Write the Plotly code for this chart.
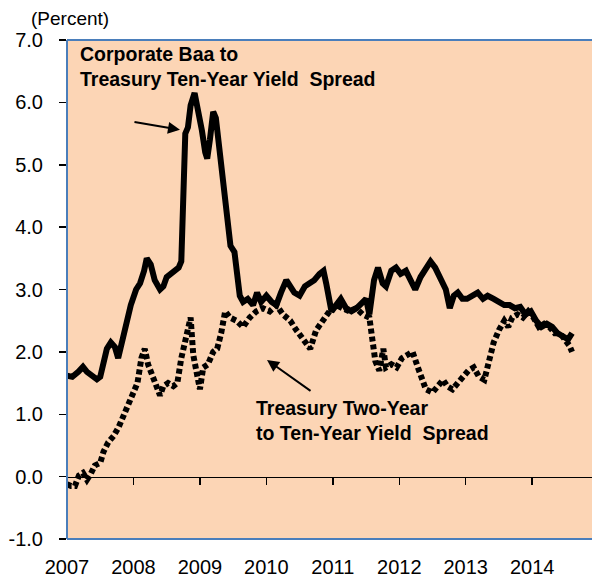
import plotly.graph_objects as go

# ---------------- data ----------------
year_ticks = [2007, 2008, 2009, 2010, 2011, 2012, 2013, 2014]
year_labels = ["2007", "2008", "2009", "2010", "2011", "2012", "2013", "2014"]
y_ticks = [-1, 0, 1, 2, 3, 4, 5, 6, 7]
y_labels = ["-1.0", "0.0", "1.0", "2.0", "3.0", "4.0", "5.0", "6.0", "7.0"]

baa_years = [
    2007.00, 2007.08, 2007.17, 2007.24, 2007.30, 2007.38, 2007.45, 2007.50, 2007.55, 2007.60,
    2007.66, 2007.72, 2007.77, 2007.83, 2007.90, 2007.96, 2008.04, 2008.10, 2008.16, 2008.20,
    2008.26, 2008.32, 2008.40, 2008.45, 2008.50, 2008.57, 2008.62, 2008.68, 2008.72, 2008.75,
    2008.78, 2008.82, 2008.86, 2008.92, 2008.97, 2009.03, 2009.08, 2009.11, 2009.15, 2009.20,
    2009.24, 2009.30, 2009.34, 2009.38, 2009.42, 2009.46, 2009.52, 2009.57, 2009.60, 2009.65,
    2009.72, 2009.80, 2009.86, 2009.92, 2010.00, 2010.08, 2010.15, 2010.22, 2010.30, 2010.36,
    2010.42, 2010.50, 2010.58, 2010.65, 2010.72, 2010.80, 2010.86, 2010.90, 2010.94, 2010.98,
    2011.05, 2011.12, 2011.20, 2011.28, 2011.36, 2011.44, 2011.50, 2011.55, 2011.58, 2011.62,
    2011.68, 2011.75, 2011.80, 2011.88, 2011.95, 2012.02, 2012.10, 2012.18, 2012.24, 2012.32,
    2012.40, 2012.47, 2012.54, 2012.62, 2012.70, 2012.76, 2012.82, 2012.88, 2012.95, 2013.02,
    2013.10, 2013.18, 2013.26, 2013.33, 2013.42, 2013.50, 2013.58, 2013.66, 2013.74, 2013.82,
    2013.90, 2013.98, 2014.06, 2014.14, 2014.22, 2014.30, 2014.38, 2014.46, 2014.54, 2014.60,
]
baa_values = [
    1.62, 1.60, 1.68, 1.76, 1.68, 1.62, 1.56, 1.60, 1.85, 2.05,
    2.15, 2.08, 1.90, 2.20, 2.55, 2.75, 3.00, 3.10, 3.30, 3.50,
    3.40, 3.15, 3.00, 3.05, 3.20, 3.25, 3.30, 3.35, 3.45, 4.20,
    5.50, 5.60, 5.95, 6.15, 5.90, 5.55, 5.20, 5.10, 5.40, 5.85,
    5.75, 5.20, 4.80, 4.40, 4.00, 3.70, 3.60, 3.20, 2.90, 2.80,
    2.85, 2.75, 2.95, 2.80, 2.90, 2.80, 2.75, 2.95, 3.15, 3.05,
    2.95, 2.90, 3.05, 3.10, 3.15, 3.25, 3.30, 3.10, 2.80, 2.65,
    2.75, 2.85, 2.70, 2.65, 2.70, 2.80, 2.85, 2.60, 2.90, 3.15,
    3.35, 3.10, 3.05, 3.30, 3.35, 3.25, 3.30, 3.10, 3.00, 3.20,
    3.35, 3.45, 3.35, 3.15, 3.00, 2.70, 2.90, 2.95, 2.85, 2.85,
    2.90, 2.95, 2.85, 2.90, 2.85, 2.80, 2.75, 2.75, 2.70, 2.72,
    2.60, 2.65, 2.50, 2.40, 2.45, 2.40, 2.30, 2.25, 2.20, 2.30,
]

t210_years = [
    2007.00, 2007.06, 2007.12, 2007.18, 2007.24, 2007.30, 2007.36, 2007.42, 2007.50, 2007.55,
    2007.62, 2007.70, 2007.78, 2007.85, 2007.92, 2008.00, 2008.06, 2008.12, 2008.17, 2008.22,
    2008.28, 2008.35, 2008.40, 2008.45, 2008.52, 2008.60, 2008.66, 2008.72, 2008.80, 2008.86,
    2008.90, 2008.95, 2009.00, 2009.05, 2009.12, 2009.20, 2009.26, 2009.32, 2009.38, 2009.45,
    2009.55, 2009.65, 2009.75, 2009.85, 2009.95, 2010.05, 2010.15, 2010.25, 2010.36, 2010.45,
    2010.55, 2010.66, 2010.75, 2010.85, 2010.95, 2011.05, 2011.15, 2011.25, 2011.35, 2011.45,
    2011.55, 2011.60, 2011.64, 2011.70, 2011.76, 2011.80, 2011.88, 2011.96, 2012.04, 2012.12,
    2012.20, 2012.28, 2012.34, 2012.40, 2012.50, 2012.58, 2012.66, 2012.72, 2012.80, 2012.88,
    2012.96, 2013.04, 2013.12, 2013.20, 2013.28, 2013.36, 2013.42, 2013.50, 2013.58, 2013.64,
    2013.70, 2013.78, 2013.86, 2013.94, 2014.02, 2014.10, 2014.18, 2014.26, 2014.34, 2014.42,
    2014.50, 2014.56, 2014.60,
]
t210_values = [
    -0.12, -0.15, -0.15, 0.02, 0.06, -0.05, 0.05, 0.18, 0.22, 0.40,
    0.55, 0.65, 0.80, 0.98, 1.10, 1.35, 1.50, 1.90, 2.05, 1.80,
    1.65, 1.45, 1.30, 1.45, 1.50, 1.45, 1.50, 1.90, 2.30, 2.55,
    1.95, 1.70, 1.40, 1.75, 1.80, 2.00, 2.05, 2.30, 2.65, 2.55,
    2.50, 2.40, 2.55, 2.65, 2.70, 2.65, 2.75, 2.60, 2.50, 2.35,
    2.20, 2.05, 2.35, 2.50, 2.65, 2.75, 2.70, 2.65, 2.70, 2.60,
    2.55, 2.20, 1.85, 1.70, 2.05, 1.75, 1.80, 1.75, 1.90, 1.95,
    2.00, 1.75, 1.55, 1.40, 1.35, 1.45, 1.55, 1.45, 1.40, 1.50,
    1.62, 1.70, 1.75, 1.60, 1.55, 1.85, 2.15, 2.35, 2.50, 2.40,
    2.55, 2.60, 2.55, 2.65, 2.55, 2.40, 2.45, 2.40, 2.30, 2.30,
    2.20, 2.10, 2.00,
]

# ---------------- styles ----------------
BG = "#FCD5B5"
BORDER = "#4A7EBB"
FONT = "Liberation Sans, Arial, sans-serif"
X_RANGE = [2007, 2014.9]
Y_RANGE = [-1, 7]

fig = go.Figure()

fig.add_trace(go.Scatter(
    x=baa_years, y=baa_values, mode="lines",
    line=dict(color="black", width=6),
    hoverinfo="skip", showlegend=False,
))
fig.add_trace(go.Scatter(
    x=t210_years, y=t210_values, mode="lines",
    line=dict(color="black", width=6, dash="5px,3px"),
    hoverinfo="skip", showlegend=False,
))
# empty trace to register the zero-line tick axis
fig.add_trace(go.Scatter(x=[], y=[], xaxis="x2", yaxis="y", showlegend=False, hoverinfo="skip"))

fig.update_layout(
    width=592, height=580,
    margin=dict(l=67, r=0, t=40, b=41),
    paper_bgcolor="white",
    plot_bgcolor=BG,
    font=dict(family=FONT, color="black", size=20),
    xaxis=dict(
        range=X_RANGE, tickvals=year_ticks, ticktext=year_labels,
        ticks="outside", ticklen=10, tickcolor="rgba(0,0,0,0)",
        showgrid=False, zeroline=False, showline=False,
        tickfont=dict(size=20),
    ),
    xaxis2=dict(
        range=X_RANGE, overlaying="x", anchor="free", position=0.125, side="bottom",
        tickvals=year_ticks[1:], ticks="outside", ticklen=7, tickcolor="black", tickwidth=1.5,
        showticklabels=False, showgrid=False, zeroline=False,
        showline=True, linecolor="black", linewidth=1.5,
    ),
    yaxis=dict(
        range=Y_RANGE, tickvals=y_ticks, ticktext=y_labels,
        ticks="outside", ticklen=7, tickcolor="black", tickwidth=1.5,
        ticklabelstandoff=12,
        showgrid=False, zeroline=False, showline=False,
        tickfont=dict(size=20),
    ),
)

# plot border (top, left, bottom)
fig.add_shape(type="line", xref="paper", yref="paper", x0=0, x1=1, y0=1, y1=1,
              line=dict(color=BORDER, width=2))
fig.add_shape(type="line", xref="paper", yref="paper", x0=0, x1=1, y0=0, y1=0,
              line=dict(color=BORDER, width=2))
fig.add_shape(type="line", xref="paper", yref="paper", x0=0, x1=0, y0=0, y1=1,
              line=dict(color=BORDER, width=2))

# texts
fig.add_annotation(
    text="(Percent)", xref="paper", yref="paper", x=-0.072, y=1.044,
    xanchor="left", yanchor="middle", showarrow=False, font=dict(size=19),
)
fig.add_annotation(
    text="<b>Corporate Baa to<br>Treasury Ten-Year Yield  Spread</b>",
    x=2007.17, y=6.58, xanchor="left", yanchor="middle", align="left",
    showarrow=False, font=dict(size=19.5),
)
fig.add_annotation(
    text="<b>Treasury Two-Year<br>to Ten-Year Yield  Spread</b>",
    x=2009.81, y=0.90, xanchor="left", yanchor="middle", align="left",
    showarrow=False, font=dict(size=19.5),
)
# arrows
fig.add_annotation(
    x=2008.70, y=5.56, ax=-47, ay=-8, text="", showarrow=True,
    arrowhead=2, arrowsize=1.2, arrowwidth=2, arrowcolor="black",
)
fig.add_annotation(
    x=2010.01, y=1.87, ax=45, ay=32, text="", showarrow=True,
    arrowhead=2, arrowsize=1.2, arrowwidth=2, arrowcolor="black",
)

# remove the default 8px page margin so the figure sits at the window's corner
fig.write_html(
    "out.html",
    config={"displayModeBar": False, "staticPlot": True},
    post_script="document.body.style.margin='0';document.body.style.overflow='hidden';",
)
